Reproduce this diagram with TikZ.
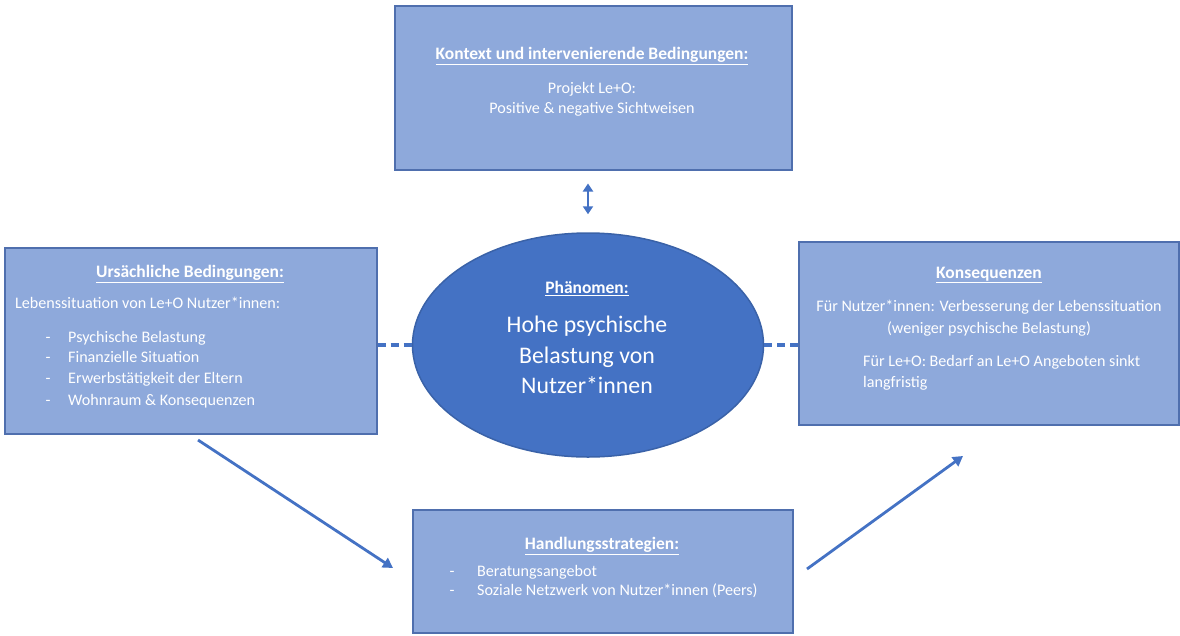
\documentclass[tikz,border=0pt]{standalone}
\usepackage{fontspec}
\setmainfont{Carlito}
\usetikzlibrary{arrows.meta,shapes.geometric}
\definecolor{boxfill}{HTML}{8EA9DB}
\definecolor{boxline}{HTML}{4F6FAE}
\definecolor{ellfill}{HTML}{4472C4}
\definecolor{ellline}{HTML}{3A62A8}
\definecolor{arr}{HTML}{4472C4}
\tikzset{
  box/.style={draw=boxline, line width=1.5pt, fill=boxfill, anchor=north west, inner sep=0pt},
  txt/.style={text=white, inner sep=0pt, font=\fontsize{16.1}{18}\selectfont},
  ttl/.style={text=white, inner sep=0pt, font=\fontsize{17.5}{20}\selectfont\bfseries},
  big/.style={text=white, inner sep=0pt, font=\fontsize{23.8}{28}\selectfont},
  dashline/.style={draw=arr, line width=4.5pt, dash pattern=on 8pt off 5pt},
  diagarrow/.style={draw=arr, line width=2.8pt, -{Triangle[width=11pt,length=10pt]}},
  dblarrow/.style={draw=arr, line width=2.8pt, {Triangle[width=10pt,length=8pt]}-{Triangle[width=10pt,length=8pt]}},
}
\newcommand{\ul}[1]{\underline{#1}}
\begin{document}
\begin{tikzpicture}[x=1pt,y=-1pt]
\useasboundingbox (0,0) rectangle (1180,635);
% boxes
\node[box, minimum width=397pt, minimum height=164pt] (top) at (394,5) {};
\node[box, minimum width=372pt, minimum height=186pt] (left) at (4,247) {};
\node[box, minimum width=380pt, minimum height=183pt] (right) at (798,241) {};
\node[box, minimum width=380pt, minimum height=123pt] (bot) at (412,509) {};
\node[ellipse, draw=ellline, line width=1.5pt, fill=ellfill, minimum width=351pt, minimum height=224pt, inner sep=0pt] (ell) at (588,345) {};
% top box text
\node[ttl, anchor=mid] (t1) at (592,57) {\ul{Kontext und intervenierende Bedingungen:}};
\node[txt, anchor=mid] (t2) at (592,91) {Projekt Le+O:};
\node[txt, anchor=mid] (t3) at (592,111) {Positive \& negative Sichtweisen};
% left box text
\node[ttl, anchor=mid] (l1) at (190,275) {\ul{Ursächliche Bedingungen:}};
\node[txt, anchor=mid west] (l2) at (15,306) {Lebenssituation von Le+O Nutzer*innen:};
\node[txt, anchor=mid] (ld1) at (48,340) {-};
\node[txt, anchor=mid west] (li1) at (68,340) {Psychische Belastung};
\node[txt, anchor=mid] (ld2) at (48,360) {-};
\node[txt, anchor=mid west] (li2) at (68,360) {Finanzielle Situation};
\node[txt, anchor=mid] (ld3) at (48,381) {-};
\node[txt, anchor=mid west] (li3) at (68,381) {Erwerbstätigkeit der Eltern};
\node[txt, anchor=mid] (ld4) at (48,403) {-};
\node[txt, anchor=mid west] (li4) at (68,403) {Wohnraum \& Konsequenzen};
% right box text
\node[ttl, anchor=mid] (r1) at (989,276) {\ul{Konsequenzen}};
\node[txt, anchor=mid] (r2) at (989,309) {Für Nutzer*innen: Verbesserung der Lebenssituation};
\node[txt, anchor=mid] (r3) at (989,331) {(weniger psychische Belastung)};
\node[txt, anchor=mid west] (r4) at (863,364) {Für Le+O: Bedarf an Le+O Angeboten sinkt};
\node[txt, anchor=mid west] (r5) at (863,385) {langfristig};
% bottom box text
\node[ttl, anchor=mid] (b1) at (602,547) {\ul{Handlungsstrategien:}};
\node[txt, anchor=mid] (bd1) at (452,574) {-};
\node[txt, anchor=mid west] (bi1) at (477,574) {Beratungsangebot};
\node[txt, anchor=mid] (bd2) at (452,593) {-};
\node[txt, anchor=mid west] (bi2) at (477,593) {Soziale Netzwerk von Nutzer*innen (Peers)};
% ellipse text
\node[ttl, anchor=mid] (e1) at (587,291) {\ul{Phänomen:}};
\node[big, anchor=mid] (e2) at (587,330) {Hohe psychische};
\node[big, anchor=mid] (e3) at (587,361) {Belastung von};
\node[big, anchor=mid] (e4) at (587,391) {Nutzer*innen};
% connectors
\draw[dashline] (left.east |- ell.west) -- (ell.west);
\draw[dashline] (ell.east) -- (right.west |- ell.east);
\draw[dblarrow, shorten <=13pt, shorten >=18pt] (top.south -| ell.north) -- (ell.north);
\coordinate (a1s) at (198,440);
\coordinate (a1e) at (393,568);
\coordinate (a2s) at (807,569);
\coordinate (a2e) at (963,456);
\draw[diagarrow] (a1s) -- (a1e);
\draw[diagarrow] (a2s) -- (a2e);
\end{tikzpicture}
\end{document}
